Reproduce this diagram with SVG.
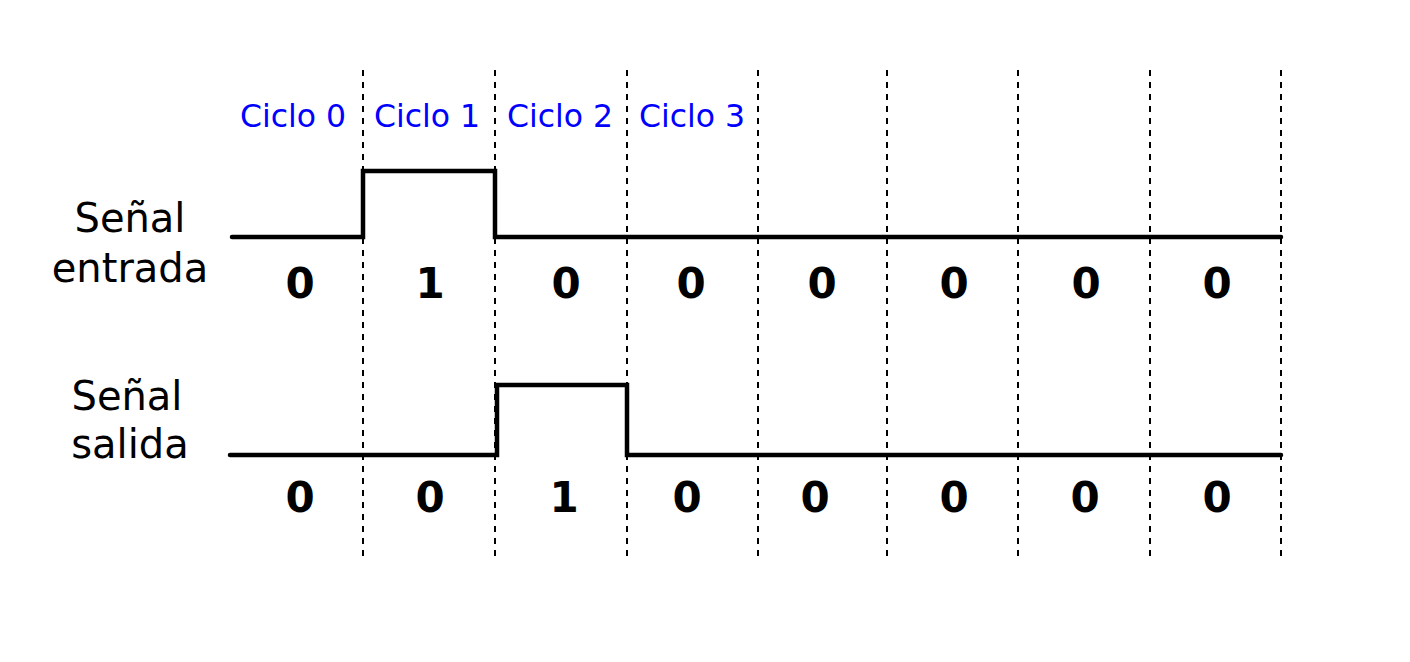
<svg xmlns="http://www.w3.org/2000/svg" width="1410" height="662" viewBox="0 0 1410 662">
<style>
.grid{stroke:#000;stroke-width:2;stroke-dasharray:6,6}
.sig{fill:none;stroke:#000;stroke-width:4.5;stroke-linecap:round;stroke-linejoin:miter}
.cyc{font-family:"DejaVu Sans",sans-serif;font-size:31.5px;fill:#0000ff;text-anchor:middle}
.bit{font-family:"DejaVu Sans",sans-serif;font-size:42px;font-weight:bold;fill:#000;text-anchor:middle}
.lbl{font-family:"DejaVu Sans",sans-serif;font-size:40px;fill:#000;text-anchor:middle}
</style>
<rect width="1410" height="662" fill="#fff"/>
<g id="grid">
<line class="grid" x1="363" y1="70" x2="363" y2="556"/>
<line class="grid" x1="495" y1="70" x2="495" y2="556"/>
<line class="grid" x1="627" y1="70" x2="627" y2="556"/>
<line class="grid" x1="758" y1="70" x2="758" y2="556"/>
<line class="grid" x1="887" y1="70" x2="887" y2="556"/>
<line class="grid" x1="1018" y1="70" x2="1018" y2="556"/>
<line class="grid" x1="1150" y1="70" x2="1150" y2="556"/>
<line class="grid" x1="1281" y1="70" x2="1281" y2="556"/>
</g>
<g id="cycles">
<text class="cyc" x="293" y="127">Ciclo 0</text>
<text class="cyc" x="427" y="127">Ciclo 1</text>
<text class="cyc" x="560" y="127">Ciclo 2</text>
<text class="cyc" x="692" y="127">Ciclo 3</text>
</g>
<g id="input-label">
<text class="lbl" x="130" y="232">Señal</text>
<text class="lbl" x="130" y="282">entrada</text>
</g>
<g id="output-label">
<text class="lbl" x="127" y="410">Señal</text>
<text class="lbl" x="130" y="458">salida</text>
</g>
<g id="signals">
<path id="input-signal" class="sig" d="M232,237 H363 V171 H495 V237 H1281"/>
<path id="output-signal" class="sig" d="M230,455 H497 V385 H627 V455 H1281"/>
</g>
<g id="input-bits">
<text class="bit" x="300" y="298">0</text>
<text class="bit" x="430" y="298">1</text>
<text class="bit" x="566" y="298">0</text>
<text class="bit" x="691" y="298">0</text>
<text class="bit" x="822" y="298">0</text>
<text class="bit" x="954" y="298">0</text>
<text class="bit" x="1086" y="298">0</text>
<text class="bit" x="1217" y="298">0</text>
</g>
<g id="output-bits">
<text class="bit" x="300" y="512">0</text>
<text class="bit" x="430" y="512">0</text>
<text class="bit" x="564" y="512">1</text>
<text class="bit" x="687" y="512">0</text>
<text class="bit" x="815" y="512">0</text>
<text class="bit" x="954" y="512">0</text>
<text class="bit" x="1085" y="512">0</text>
<text class="bit" x="1217" y="512">0</text>
</g>
</svg>
